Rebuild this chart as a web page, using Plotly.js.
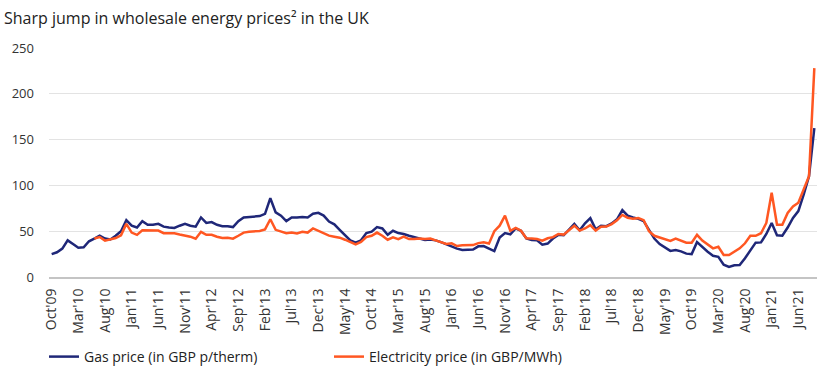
<!DOCTYPE html>
<html>
<head>
<meta charset="utf-8">
<script src="https://cdn.plot.ly/plotly-3.0.1.min.js"></script>
<style>
html,body{margin:0;padding:0;background:#fff;}
#chart{width:830px;height:379px;}
</style>
</head>
<body>
<div id="chart"></div>
<script>
// Monthly categories Oct'09 .. Sep'21
const monthNames = ["Jan","Feb","Mar","Apr","May","Jun","Jul","Aug","Sep","Oct","Nov","Dec"];
const startYear = 2009, startMonth = 9, nMonths = 144;
const months = [];
for (let i = 0; i < nMonths; i++) {
  const m = (startMonth + i) % 12;
  const y = startYear + Math.floor((startMonth + i) / 12);
  months.push(monthNames[m] + "'" + String(y % 100).padStart(2, "0"));
}

const tickLabels = ["Oct'09","Mar'10","Aug'10","Jan'11","Jun'11","Nov'11","Apr'12","Sep'12","Feb'13","Jul'13","Dec'13","May'14","Oct'14","Mar'15","Aug'15","Jan'16","Jun'16","Nov'16","Apr'17","Sep'17","Feb'18","Jul'18","Dec'18","May'19","Oct'19","Mar'20","Aug'20","Jan'21","Jun'21"];

// Gas price (GBP p/therm)
const gasPrice = [
25,27,31,40,36,32,32.5,39,42,45,42,41,
45,50,62,56,54,61,57,57,58,55,54,53.5,
56,58,56,55,65,59,60,57,55.5,55.5,54.5,61,
65,65.5,66,66.5,69,86,70.5,67,61,65,65,65.5,
65,69,70,67,60.5,57.5,51.5,46,40,37.5,40,48,
49.5,54.5,53,46,50.5,48,47,45,43.5,42.5,40.5,41,
40,38,35.5,33,31,29.6,29.4,30,33.5,33.8,31,28.3,
43,48,46.5,53,50.5,42,40.5,40,35.3,36.5,42,46,
45.5,52,58,51,58.7,64.2,52,56,55.5,58.5,63,73,
67,65,63.5,61,51,42,36,32,28.5,29.5,28,25.5,
25,38,32.4,27.6,23.2,22,13.5,11,12.8,13,20.5,29.4,
37.5,37.8,47,59,45.5,45,54,64.5,72,90,110,162.5
];

// Electricity price (GBP/MWh)
const elecPrice = [
null,null,null,null,null,null,null,null,42,43.6,39.7,41,
42.5,45.6,58,48.5,46,51,50.7,50.3,50.7,47.8,47.5,47.8,
46.4,45.6,44,41.8,49.3,46,46,44,42.5,42.9,41.8,45,
48.5,49.5,50,50.3,52,63,51.5,49.3,47.8,48.5,47.5,49.3,
48.5,53,50.3,47.8,45.2,44,42.9,40.7,37.9,35.7,38.2,43.6,
45,48.5,45,40.7,43.2,41.4,44,41.4,41.4,42,41.4,42,
40,38,36,36.8,33.8,34.6,34.6,34.8,37,38,36.5,50,
56,67,50.5,53.5,50.5,42.3,41.9,41.5,39.7,42.3,43.5,47,
46.3,51.5,56,50.7,53,56.6,50.7,54.8,55,57.8,61.8,67.7,
64.7,63.6,64.4,62,50,45,43.3,41.2,39.5,42,39.7,37.5,
37.5,46,39.7,35.7,31.3,33,24,24,27.6,31.3,36.8,44.9,
44.9,47.8,59,92,57,57,70,77,81,95,110,228
];

const fontFam = "'Open Sans', 'Noto Sans', sans-serif";

const traces = [
  {x: months, y: gasPrice, type: "scatter", mode: "lines", name: "Gas price (in GBP p/therm)",
   line: {color: "#1f2778", width: 2.5}, connectgaps: false},
  {x: months, y: elecPrice, type: "scatter", mode: "lines", name: "Electricity price (in GBP/MWh)",
   line: {color: "#ff5722", width: 2.5}, connectgaps: false}
];

const layout = {
  width: 830, height: 379,
  margin: {l: 49, r: 13, t: 48, b: 102, autoexpand: false},
  paper_bgcolor: "#fff", plot_bgcolor: "#fff",
  font: {family: fontFam, color: "#333", size: 13},
  title: {text: "Sharp jump in wholesale energy prices² in the UK", x: 4/830, xanchor: "left", xref: "container",
          y: 1 - 18/379, yanchor: "middle", yref: "container",
          font: {family: fontFam, size: 16, color: "#222"}},
  xaxis: {type: "category", tickmode: "array", tickvals: tickLabels, ticktext: tickLabels,
          tickangle: -90, showgrid: false, zeroline: false, showline: true, automargin: false,
          linecolor: "#c4c4c4", linewidth: 2, ticks: "", range: [-0.5, nMonths - 0.5],
          ticklabelstandoff: 4,
          tickfont: {size: 14, color: "#333"}, fixedrange: true},
  yaxis: {range: [0, 250], tickvals: [0, 50, 100, 150, 200, 250], showgrid: true, automargin: false,
          gridcolor: "#e3e3e3", gridwidth: 1, zeroline: false, showline: false, ticks: "",
          ticklabelstandoff: 14, tickfont: {size: 13, color: "#333"}, fixedrange: true},
  showlegend: true,
  legend: {orientation: "h", xref: "container", yref: "container", x: 44/830, xanchor: "left",
           y: 1 - 357/379, yanchor: "middle",
           font: {size: 14, color: "#222"}, entrywidth: 240, bgcolor: "rgba(0,0,0,0)"}
};

Plotly.newPlot("chart", traces, layout, {displayModeBar: false, staticPlot: true});
</script>
</body>
</html>
